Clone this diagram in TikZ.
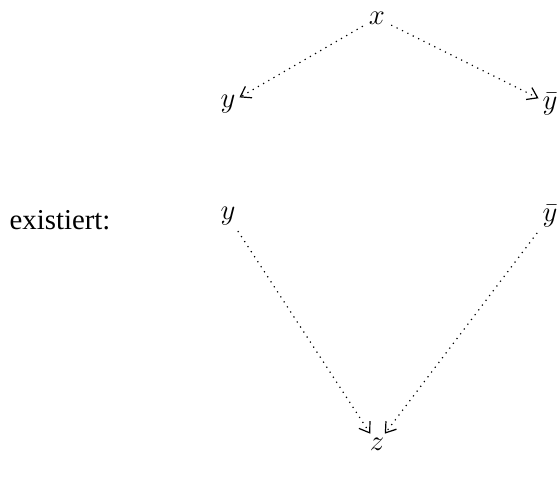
\documentclass[tikz,border=0pt]{standalone}
\usepackage{fontspec}
\setmainfont{Liberation Serif}
\usetikzlibrary{arrows.meta}
\begin{document}
\begin{tikzpicture}[x=0.4167pt,y=-0.4167pt,
  lbl/.style={inner sep=1.5pt,font=\fontsize{12}{14}\selectfont},
  edge/.style={dotted,line width=0.5pt,-{Straight Barb[length=4pt,width=5.5pt]},shorten >=0pt,shorten <=1pt}]
\useasboundingbox (0,0) rectangle (559,480);
\node[lbl] (x) at (377,18) {$x$};
\node[lbl] (y1) at (228,104) {$y$};
\node[lbl] (yb1) at (550,104) {$\bar y$};
\node[font=\fontsize{12}{14}\selectfont,inner sep=0pt] (ex) at (60,220) {existiert:};
\node[lbl] (y2) at (228,216) {$y$};
\node[lbl] (yb2) at (550,216) {$\bar y$};
\node[lbl] (z) at (377,444) {$z$};
\draw[edge] (x) -- (y1);
\draw[edge] (x) -- (yb1);
\draw[edge] (y2) -- (z);
\draw[edge] (yb2) -- (z);
\end{tikzpicture}
\end{document}
